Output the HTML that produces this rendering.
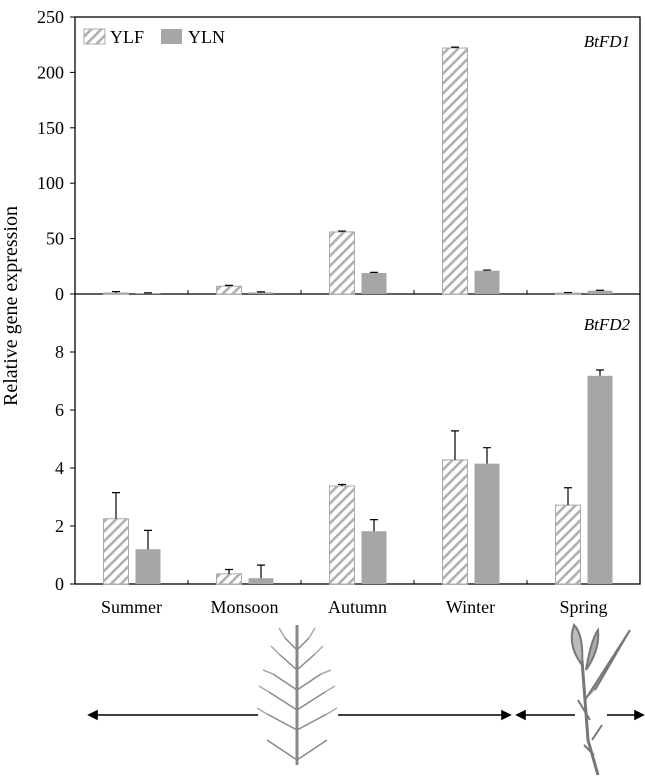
<!DOCTYPE html>
<html><head><meta charset="utf-8"><style>
body{margin:0;background:#fff}
svg{display:block;font-family:"Liberation Serif",serif}
</style></head><body>
<svg id="c" width="645" height="778" viewBox="0 0 645 778">
<defs>
<pattern id="hatch" patternUnits="userSpaceOnUse" width="7" height="7" patternTransform="rotate(45)">
<rect width="7" height="7" fill="#fff"/><rect width="2.6" height="7" fill="#b0b0b0"/>
</pattern>
</defs>
<g id="plot"></g>
<text x="0" y="0" transform="translate(17,306) rotate(-90)" text-anchor="middle" font-size="20">Relative gene expression</text>
<g>
<rect x="84" y="29" width="21" height="15" fill="url(#hatch)" stroke="#aaa"/>
<text x="110" y="43" font-size="18">YLF</text>
<rect x="161" y="29" width="21" height="15" fill="#a6a6a6"/>
<text x="188" y="43" font-size="18">YLN</text>
</g>
<text x="630" y="47" text-anchor="end" font-size="17" font-style="italic">BtFD1</text>
<text x="630" y="330" text-anchor="end" font-size="17" font-style="italic">BtFD2</text>
<g stroke="#000" stroke-width="1.6" fill="#000">
<line x1="95" y1="715" x2="258" y2="715"/><polygon points="89,715 97,711 97,719"/>
<line x1="338" y1="715" x2="503" y2="715"/><polygon points="510,715 502,711 502,719"/>
<line x1="523" y1="715" x2="575" y2="715"/><polygon points="517,715 525,711 525,719"/>
<line x1="607" y1="715" x2="636" y2="715"/><polygon points="643,715 635,711 635,719"/>
</g>
<g stroke="#888" stroke-width="1.5" fill="none">
<line x1="297" y1="625" x2="297" y2="765" stroke-width="3"/>
<path d="M297 650 l-12 -12 M297 650 l12 -12 M297 670 l-18 -16 M297 670 l18 -16 M297 690 l-24 -16 M297 690 l24 -16 M297 710 l-28 -18 M297 710 l28 -18 M297 730 l-30 -16 M297 730 l30 -16 M297 760 l-30 -20 M297 760 l30 -20"/>
<path d="M285 638 l-6 -10 M309 638 l6 -10 M279 654 l-8 -8 M315 654 l8 -8 M273 674 l-10 -4 M321 674 l10 -4 M269 692 l-10 -6 M325 692 l10 -6 M267 714 l-10 -6 M327 714 l10 -6" stroke="#aaa"/>
</g>
<g stroke="#777" stroke-width="2" fill="none">
<path d="M598 775 L588 740 L585 700 L582 660" stroke-width="3"/>
<path d="M585 700 L630 630 L595 690" fill="#999"/>
<path d="M582 665 q-15 -20 -8 -40 q10 10 8 40" fill="#bbb"/>
<path d="M586 670 q5 -30 12 -40 q2 20 -12 40" fill="#aaa"/>
<path d="M590 720 l-12 -20 M592 740 l10 -15 M594 755 l-10 -10"/>
</g>
</svg>
<script>
const seasons=["Summer","Monsoon","Autumn","Winter","Spring"];
const fd1Ylf=[1,7,56,222,0.8];
const fd1YlfErr=[1.2,0.8,0.8,0.8,0.5];
const fd1Yln=[0.5,1.5,19,21,3];
const fd1YlnErr=[0.5,0.4,0.5,0.6,0.4];
const fd2Ylf=[2.25,0.35,3.38,4.28,2.72];
const fd2YlfErr=[0.9,0.15,0.05,1.0,0.6];
const fd2Yln=[1.2,0.2,1.82,4.15,7.18];
const fd2YlnErr=[0.65,0.45,0.4,0.55,0.2];
const fd1Ticks=[0,50,100,150,200,250];
const fd2Ticks=[0,2,4,6,8];

const NS="http://www.w3.org/2000/svg";
const g=document.getElementById("plot");
const L=75,R=640,gw=(R-L)/seasons.length;
const y1=v=>294-v*(277/250);
const y2=v=>584-v*29;
const xc=i=>L+gw*(i+0.5);
function mk(t,a,p){const e=document.createElementNS(NS,t);for(const k in a)e.setAttribute(k,a[k]);(p||g).appendChild(e);return e;}
let e=mk("rect",{x:L,y:17,width:R-L,height:567,fill:"none",stroke:"#000","stroke-width":1.3});


e=mk("line",{x1:L,y1:294,x2:R,y2:294,stroke:"#000","stroke-width":1.3});


function axis(ticks,sc,name){
  ticks.forEach(t=>{
    const y=sc(t);
    const l=mk("line",{x1:L-5,y1:y,x2:L,y2:y,stroke:"#000"});
    
    
    const tx=mk("text",{x:L-11,y:y+6,"text-anchor":"end","font-size":18});
    tx.textContent=t;
    
    
  });
}
axis(fd1Ticks,y1,"btfd1-y-axis");
axis(fd2Ticks,y2,"btfd2-y-axis");
for(let i=1;i<seasons.length;i++){
  const x=L+gw*i;
  let a=mk("line",{x1:x,y1:294,x2:x,y2:290,stroke:"#000"});
  
  
  a=mk("line",{x1:x,y1:584,x2:x,y2:580,stroke:"#000"});
  
  
}
function bars(vals,errs,sc,off,fill,stroke,name){
  vals.forEach((v,i)=>{
    const x=xc(i)+off, y=sc(v), y0=sc(0);
    const r=mk("rect",{x:x,y:y,width:25,height:y0-y,fill:fill,stroke:stroke});
    
    
    const ye=sc(v+errs[i]), cx=x+12.5;
    const el=mk("path",{d:`M${cx} ${y} V${ye} M${cx-4} ${ye} H${cx+4}`,stroke:"#000","stroke-width":1.2,fill:"none"});
    
    
  });
}
bars(fd1Ylf,fd1YlfErr,y1,-28,"url(#hatch)","#aaa","btfd1-ylf-bar");
bars(fd1Yln,fd1YlnErr,y1,4,"#a6a6a6","none","btfd1-yln-bar");
bars(fd2Ylf,fd2YlfErr,y2,-28,"url(#hatch)","#aaa","btfd2-ylf-bar");
bars(fd2Yln,fd2YlnErr,y2,4,"#a6a6a6","none","btfd2-yln-bar");
seasons.forEach((s,i)=>{
  const t=mk("text",{x:xc(i),y:613,"text-anchor":"middle","font-size":18});
  t.textContent=s;
  
  
});
</script>
</body></html>
